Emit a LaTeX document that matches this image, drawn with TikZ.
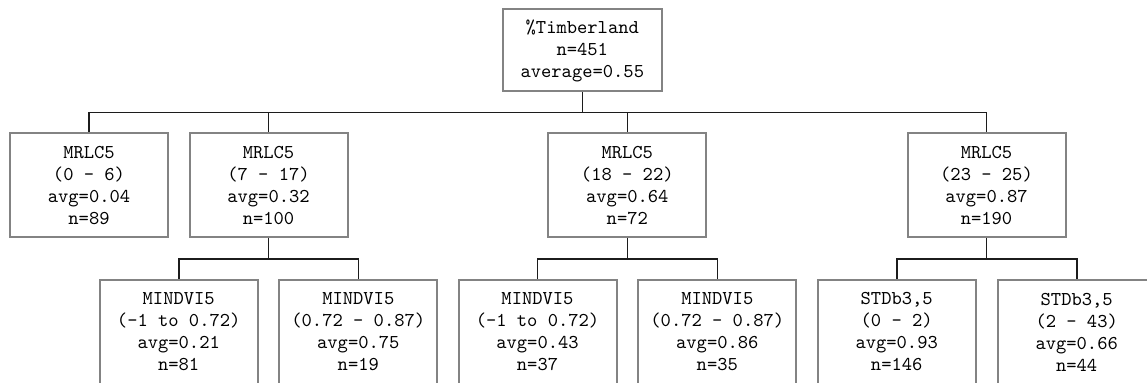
\documentclass[tikz,border=0pt]{standalone}
\usepackage{fontspec}
\usepackage{tikz}
\usetikzlibrary{calc}
\definecolor{boxgray}{HTML}{838383}
\definecolor{linkdark}{HTML}{1C1C1C}
\tikzset{
  splitnode/.style={draw=boxgray, fill=white, line width=1pt, align=center, inner sep=0pt, font=\ttfamily\fontsize{9.8}{11}\selectfont, minimum width=79pt, minimum height=52pt},
  rootnode/.style={splitnode, minimum width=79.5pt, minimum height=41pt},
  branch/.style={draw=linkdark, line width=0.8pt}
}

\begin{document}
\begin{tikzpicture}[x=0.5pt, y=0.5pt]
  \clip (0,0) rectangle (1147,383);
  % root of the regression tree
  \node[rootnode] (root) at (582.3,332.5) {\%Timberland\\n=451\\average=0.55};
  % first split on MRLC5 classes
  \node[splitnode] (lc1) at (89,197.5) {MRLC5\\(0 - 6)\\avg=0.04\\n=89};
  \node[splitnode] (lc2) at (268.5,197.5) {MRLC5\\(7 - 17)\\avg=0.32\\n=100};
  \node[splitnode] (lc3) at (627.3,197.5) {MRLC5\\(18 - 22)\\avg=0.64\\n=72};
  \node[splitnode] (lc4) at (986.5,197.5) {MRLC5\\(23 - 25)\\avg=0.87\\n=190};
  % second level splits
  \node[splitnode] (ndvi1) at (178.7,51) {MINDVI5\\(-1 to 0.72)\\avg=0.21\\n=81};
  \node[splitnode] (ndvi2) at (358.3,51) {MINDVI5\\(0.72 - 0.87)\\avg=0.75\\n=19};
  \node[splitnode] (ndvi3) at (537.5,51) {MINDVI5\\(-1 to 0.72)\\avg=0.43\\n=37};
  \node[splitnode] (ndvi4) at (717.3,51) {MINDVI5\\(0.72 - 0.87)\\avg=0.86\\n=35};
  \node[splitnode] (std1) at (896.7,51) {STDb3,5\\(0 - 2)\\avg=0.93\\n=146};
  \node[splitnode] (std2) at (1076.7,51) {STDb3,5\\(2 - 43)\\avg=0.66\\n=44};
  % elbow connectors
  \foreach \kid in {lc1,lc2,lc3,lc4}
    \draw[branch] (root.south) |- ($(root.south)!.5!(\kid.north)$) -| (\kid.north);
  \foreach \kid in {ndvi1,ndvi2}
    \draw[branch] (lc2.south) |- ($(lc2.south)!.5!(\kid.north)$) -| (\kid.north);
  \foreach \kid in {ndvi3,ndvi4}
    \draw[branch] (lc3.south) |- ($(lc3.south)!.5!(\kid.north)$) -| (\kid.north);
  \foreach \kid in {std1,std2}
    \draw[branch] (lc4.south) |- ($(lc4.south)!.5!(\kid.north)$) -| (\kid.north);
\end{tikzpicture}
\end{document}
